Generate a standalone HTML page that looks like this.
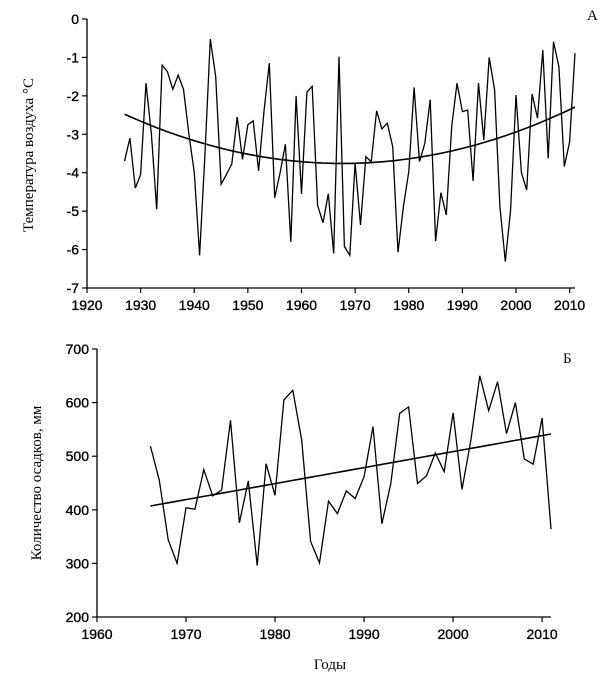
<!DOCTYPE html>
<html><head><meta charset="utf-8"><style>
body{margin:0;background:#fff;}
svg{display:block;font-family:"Liberation Sans",sans-serif;}
.tk{font-size:14px;fill:#000;stroke:#000;stroke-width:0.35;}
.ser{font-family:"Liberation Serif",serif;font-size:15px;fill:#000;}
</style></head><body>
<svg id="c" width="609" height="689" viewBox="0 0 609 689" xmlns="http://www.w3.org/2000/svg"></svg>
<script>
const tempYears=[];for(let y=1927;y<=2011;y++)tempYears.push(y);
const tempValues=[-3.7,-3.1,-4.4,-4.05,-1.67,-3.0,-4.95,-1.2,-1.37,-1.83,-1.46,-1.83,-3.0,-4.0,-6.15,-3.5,-0.52,-1.5,-4.3,-4.05,-3.77,-2.55,-3.65,-2.75,-2.65,-3.95,-2.4,-1.15,-4.65,-4.0,-3.26,-5.8,-2.0,-4.55,-1.9,-1.75,-4.85,-5.3,-4.55,-6.1,-0.98,-5.92,-6.15,-3.75,-5.36,-3.58,-3.72,-2.39,-2.86,-2.71,-3.32,-6.07,-4.88,-3.97,-1.78,-3.71,-3.24,-2.1,-5.78,-4.52,-5.1,-2.8,-1.67,-2.41,-2.37,-4.21,-1.67,-3.15,-1.0,-1.85,-4.88,-6.31,-4.97,-1.98,-4.0,-4.45,-1.95,-2.58,-0.81,-3.63,-0.59,-1.24,-3.84,-3.2,-0.89];
const tempYTicks=[0,-1,-2,-3,-4,-5,-6,-7];
const tempXTicks=[1920,1930,1940,1950,1960,1970,1980,1990,2000,2010];
const precYears=[];for(let y=1966;y<=2011;y++)precYears.push(y);
const precValues=[519,455,344,300,404,401,475,426,437,567,376,454,296,486,427,605,623,530,341,301,416,393,435,421,462,555,374,449,580,592,449,463,506,471,581,438,530,650,585,639,542,600,495,485,571,364];
const precYTicks=[700,600,500,400,300,200];
const precXTicks=[1960,1970,1980,1990,2000,2010];

const svg=document.getElementById('c');
const NS='http://www.w3.org/2000/svg';
function mk(t,a,p){const e=document.createElementNS(NS,t);for(const k in a)e.setAttribute(k,a[k]);(p||svg).appendChild(e);return e;}
function polyfit(xs,ys,deg){const n=deg+1;const A=[];for(let i=0;i<n;i++){A.push(new Array(n+1).fill(0));}
 const x0=xs.reduce((a,b)=>a+b)/xs.length;
 for(let k=0;k<xs.length;k++){const x=xs[k]-x0;for(let i=0;i<n;i++){for(let j=0;j<n;j++)A[i][j]+=Math.pow(x,i+j);A[i][n]+=ys[k]*Math.pow(x,i);}}
 for(let i=0;i<n;i++){let p=i;for(let r=i+1;r<n;r++)if(Math.abs(A[r][i])>Math.abs(A[p][i]))p=r;[A[i],A[p]]=[A[p],A[i]];
  for(let r=0;r<n;r++){if(r===i)continue;const f=A[r][i]/A[i][i];for(let c=i;c<=n;c++)A[r][c]-=f*A[i][c];}}
 const co=A.map((r,i)=>r[n]/r[i]);return x=>co.reduce((s,c,i)=>s+c*Math.pow(x-x0,i),0);}

function chart(o){
 const g=mk('g',{});
 
 
 const sx=v=>o.x0+(v-o.xmin)*(o.x1-o.x0)/(o.xmax-o.xmin);
 const sy=v=>o.y1-(v-o.ymin)*(o.y1-o.y0)/(o.ymax-o.ymin);
 const ax=mk('path',{d:`M${o.x0},${o.y0}V${o.y1}H${o.x1}`,stroke:'#000','stroke-width':1.3,fill:'none'},g);
 
 
 o.yt.forEach(v=>{const y=sy(v);mk('line',{x1:o.x0-5,x2:o.x0,y1:y,y2:y,stroke:'#000','stroke-width':1.2},g);
  const t=mk('text',{x:o.x0-8,y:y+5,'text-anchor':'end',class:'tk'},g);t.textContent=v;
  
  });
 o.xt.forEach(v=>{const x=sx(v);mk('line',{x1:x,x2:x,y1:o.y1,y2:o.y1+5,stroke:'#000','stroke-width':1.2},g);
  const t=mk('text',{x:x,y:o.y1+22,'text-anchor':'middle',class:'tk'},g);t.textContent=v;
  
  });
 const d=o.xs.map((x,i)=>(i?'L':'M')+sx(x).toFixed(1)+','+sy(o.ys[i]).toFixed(1)).join('');
 const ln=mk('path',{d:d,stroke:'#000','stroke-width':1.3,fill:'none','stroke-linejoin':'miter'},g);
 
 
 const f=polyfit(o.xs,o.ys,o.deg);
 const td=o.xs.map((x,i)=>(i?'L':'M')+sx(x).toFixed(1)+','+sy(f(x)).toFixed(1)).join('');
 const tr=mk('path',{d:td,stroke:'#000','stroke-width':1.6,fill:'none'},g);
 
 
 const yt=mk('text',{x:0,y:0,class:'ser','text-anchor':'middle',transform:`translate(${o.ytx},${o.yty}) rotate(-90)`},g);
 yt.textContent=o.ytitle;
 
 
 const pl=mk('text',{x:o.lx,y:o.ly,class:'ser'},g);pl.textContent=o.label;
 
 
}
chart({name:'temperature-chart',x0:87,x1:575,xmin:1920,xmax:2011,y0:19,y1:288,ymin:-7,ymax:0,yt:tempYTicks,xt:tempXTicks,xs:tempYears,ys:tempValues,deg:2,ytitle:'Температура воздуха °C',ytx:33,yty:155,label:'A',lx:587,ly:20});
chart({name:'precipitation-chart',x0:97,x1:551,xmin:1960,xmax:2011,y0:349,y1:617,ymin:200,ymax:700,yt:precYTicks,xt:precXTicks,xs:precYears,ys:precValues,deg:1,ytitle:'Количество осадков, мм',ytx:41,yty:483,label:'Б',lx:563,ly:363});
const gx=mk('text',{x:330,y:669,class:'ser','text-anchor':'middle'});gx.textContent='Годы';


</script>
</body></html>
